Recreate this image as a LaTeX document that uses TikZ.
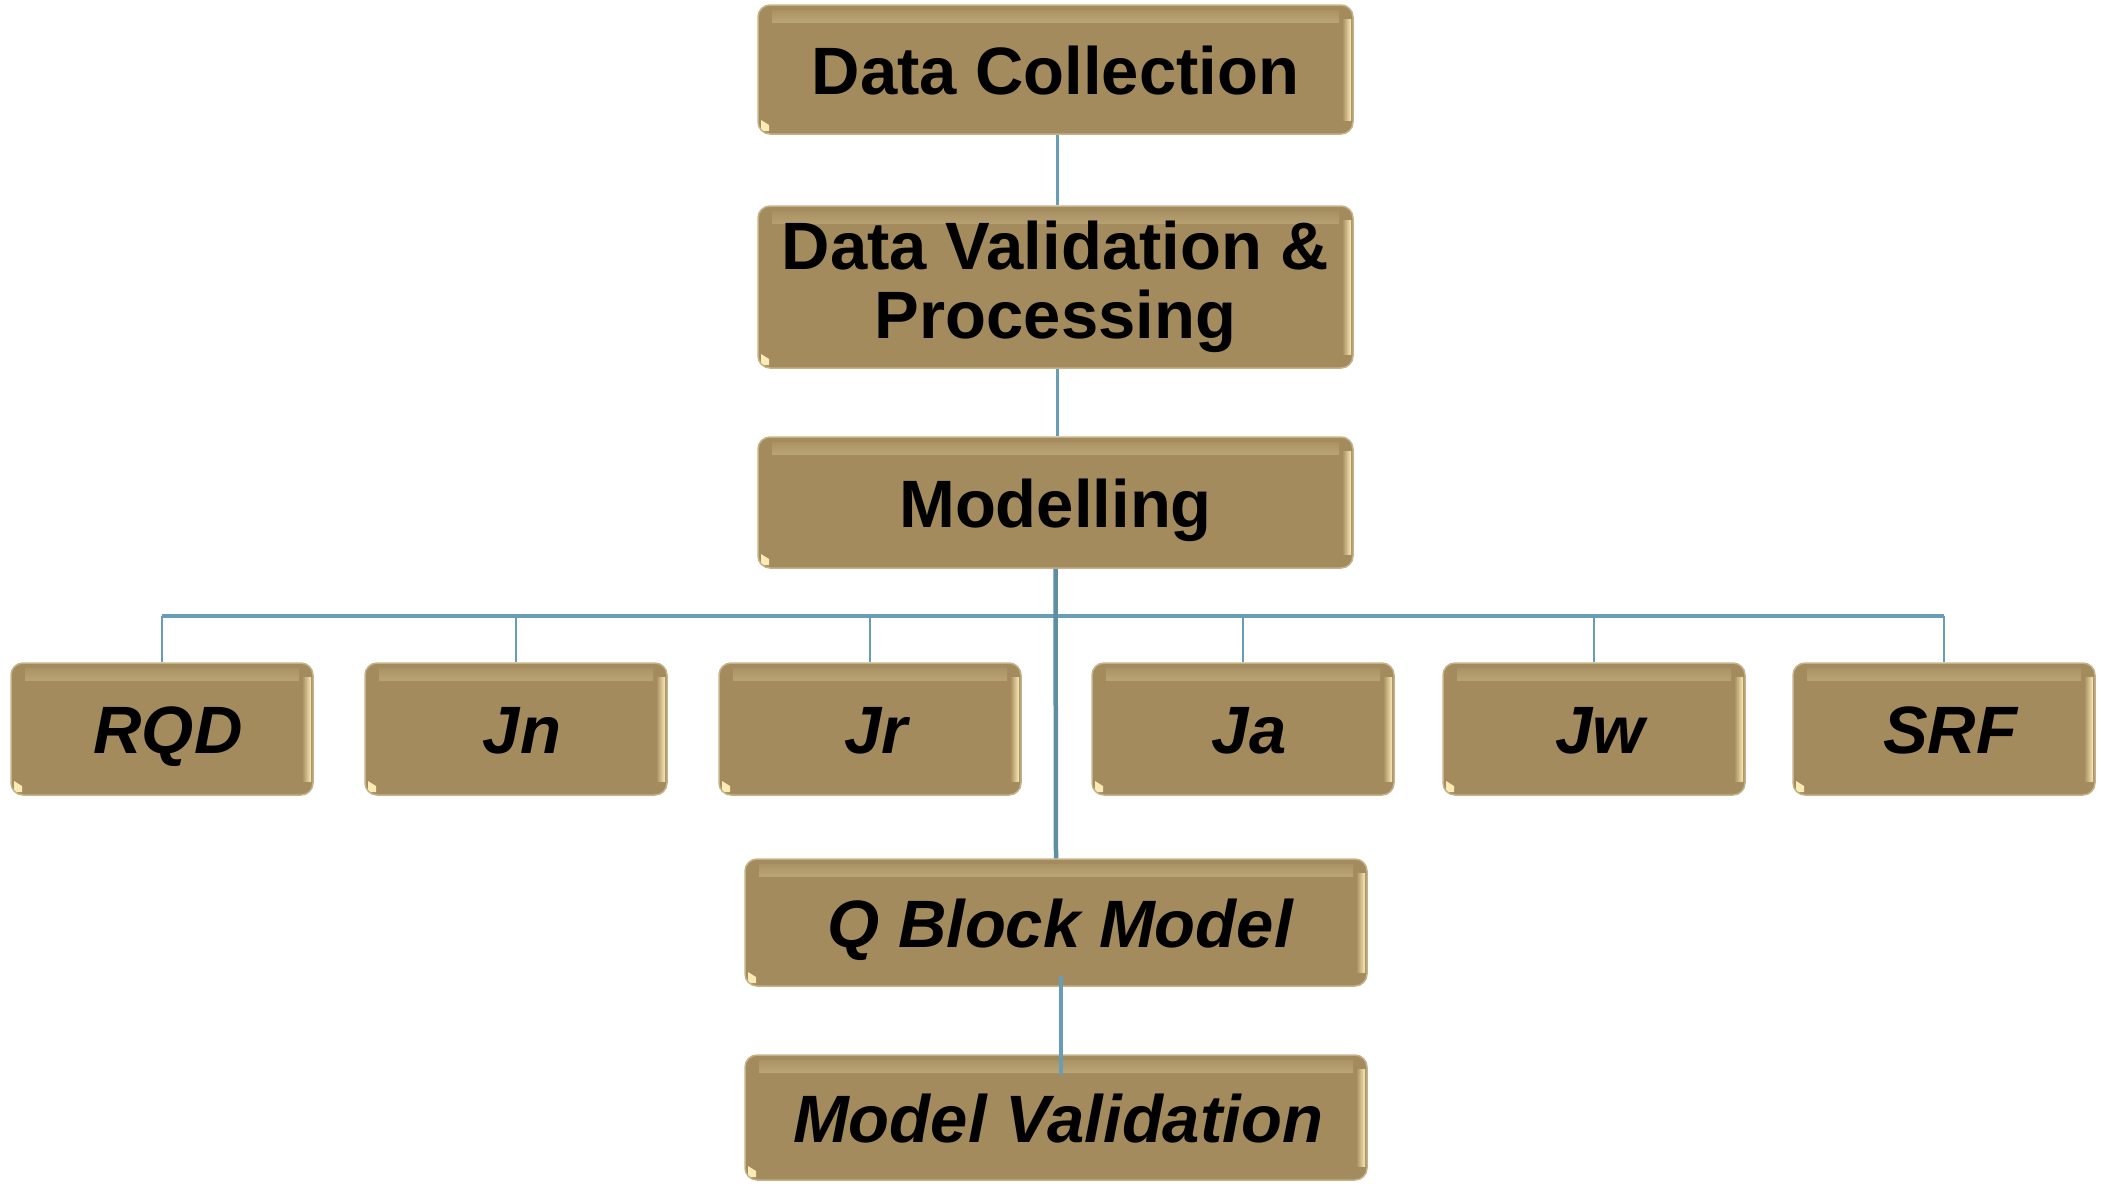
\documentclass[tikz,border=0pt]{standalone}
\usepackage{fontspec}
\setmainfont{Liberation Sans}
\definecolor{boxfill}{RGB}{163,139,94}
\definecolor{boxedge}{RGB}{196,178,138}
\definecolor{hl}{RGB}{250,234,180}
\definecolor{linkc}{RGB}{104,157,182}
\begin{document}
\begin{tikzpicture}[x=1pt,y=-1pt,
  goldbox/.style={rounded corners=12pt, fill=boxfill, draw=boxedge, line width=1.5pt,
    inner sep=0pt, align=center, font=\fontsize{67}{69}\selectfont\bfseries,
    text height=49pt, text depth=0pt,
    path picture={
      \shade[sharp corners, top color=boxfill, bottom color=boxfill, middle color=hl]
        ([xshift=14pt,yshift=-5pt]path picture bounding box.north west) rectangle
        ([xshift=-14pt,yshift=-17pt]path picture bounding box.north east);
      \shade[sharp corners, left color=boxfill, right color=hl]
        ([xshift=-11pt,yshift=-14pt]path picture bounding box.north east) rectangle
        ([xshift=-2pt,yshift=14pt]path picture bounding box.south east);
      \fill[hl, sharp corners]
        ([xshift=3pt,yshift=3pt]path picture bounding box.south west) --
        ([xshift=11pt,yshift=3pt]path picture bounding box.south west) --
        ([xshift=11pt,yshift=9pt]path picture bounding box.south west) --
        ([xshift=3pt,yshift=14pt]path picture bounding box.south west) -- cycle;
    }},
  bigbox/.style={goldbox, minimum width=595pt},
  smallbox/.style={goldbox, minimum width=302pt, minimum height=132pt,
    font=\fontsize{67}{69}\selectfont\bfseries\itshape, execute at begin node=\hspace*{12pt}},
  qbox/.style={goldbox, minimum width=622pt, font=\fontsize{67}{69}\selectfont\bfseries\itshape},
  link/.style={draw=linkc, line width=2.5pt},
  trunk/.style={draw=linkc!90!black, line width=4.5pt}
]
\useasboundingbox (0,0) rectangle (2101,1186);

% main column boxes
\node[bigbox, minimum height=129pt] (dc) at (1055.5,69.5) {Data Collection};
\node[bigbox, minimum height=162pt, text height=, text depth=] (dv) at (1055.5,287) {Data Validation \&\\Processing};
\node[bigbox, minimum height=131pt] (mod) at (1055.5,502.5) {Modelling};

% parameter boxes
\node[smallbox] (rqd) at (162,729) {RQD};
\node[smallbox] (jn)  at (516,729) {Jn};
\node[smallbox] (jr)  at (870,729) {Jr};
\node[smallbox] (ja)  at (1243,729) {Ja};
\node[smallbox] (jw)  at (1594,729) {Jw};
\node[smallbox] (srf) at (1944,729) {SRF};

% bottom boxes
\node[qbox, minimum height=127pt] (qbm) at (1056,922.5) {\hspace*{8pt}Q Block Model};
\node[qbox, minimum height=125pt] (mv)  at (1056,1117.5) {\hspace*{4pt}Model Validation};

% connectors
\draw[link, line width=3pt] ([xshift=1.5pt]dc.south) -- ([xshift=1.5pt]dv.north);
\draw[link, line width=3pt] ([xshift=1.5pt]dv.south) -- ([xshift=1.5pt]mod.north);

\coordinate (bus) at (1056,616);
\draw[link, line width=3.5pt] (bus -| rqd.north) -- (bus -| srf.north);
\foreach \n in {rqd,jn,jr,ja,jw,srf}{
  \draw[link, line width=2.5pt] (bus -| \n.north) -- (\n.north);
}
\draw[trunk] (mod.south) -- (qbm.north);
\draw[trunk, draw=linkc] ([xshift=5pt,yshift=11pt]qbm.south) -- ([xshift=5pt,yshift=-21pt]mv.north);
\end{tikzpicture}
\end{document}
